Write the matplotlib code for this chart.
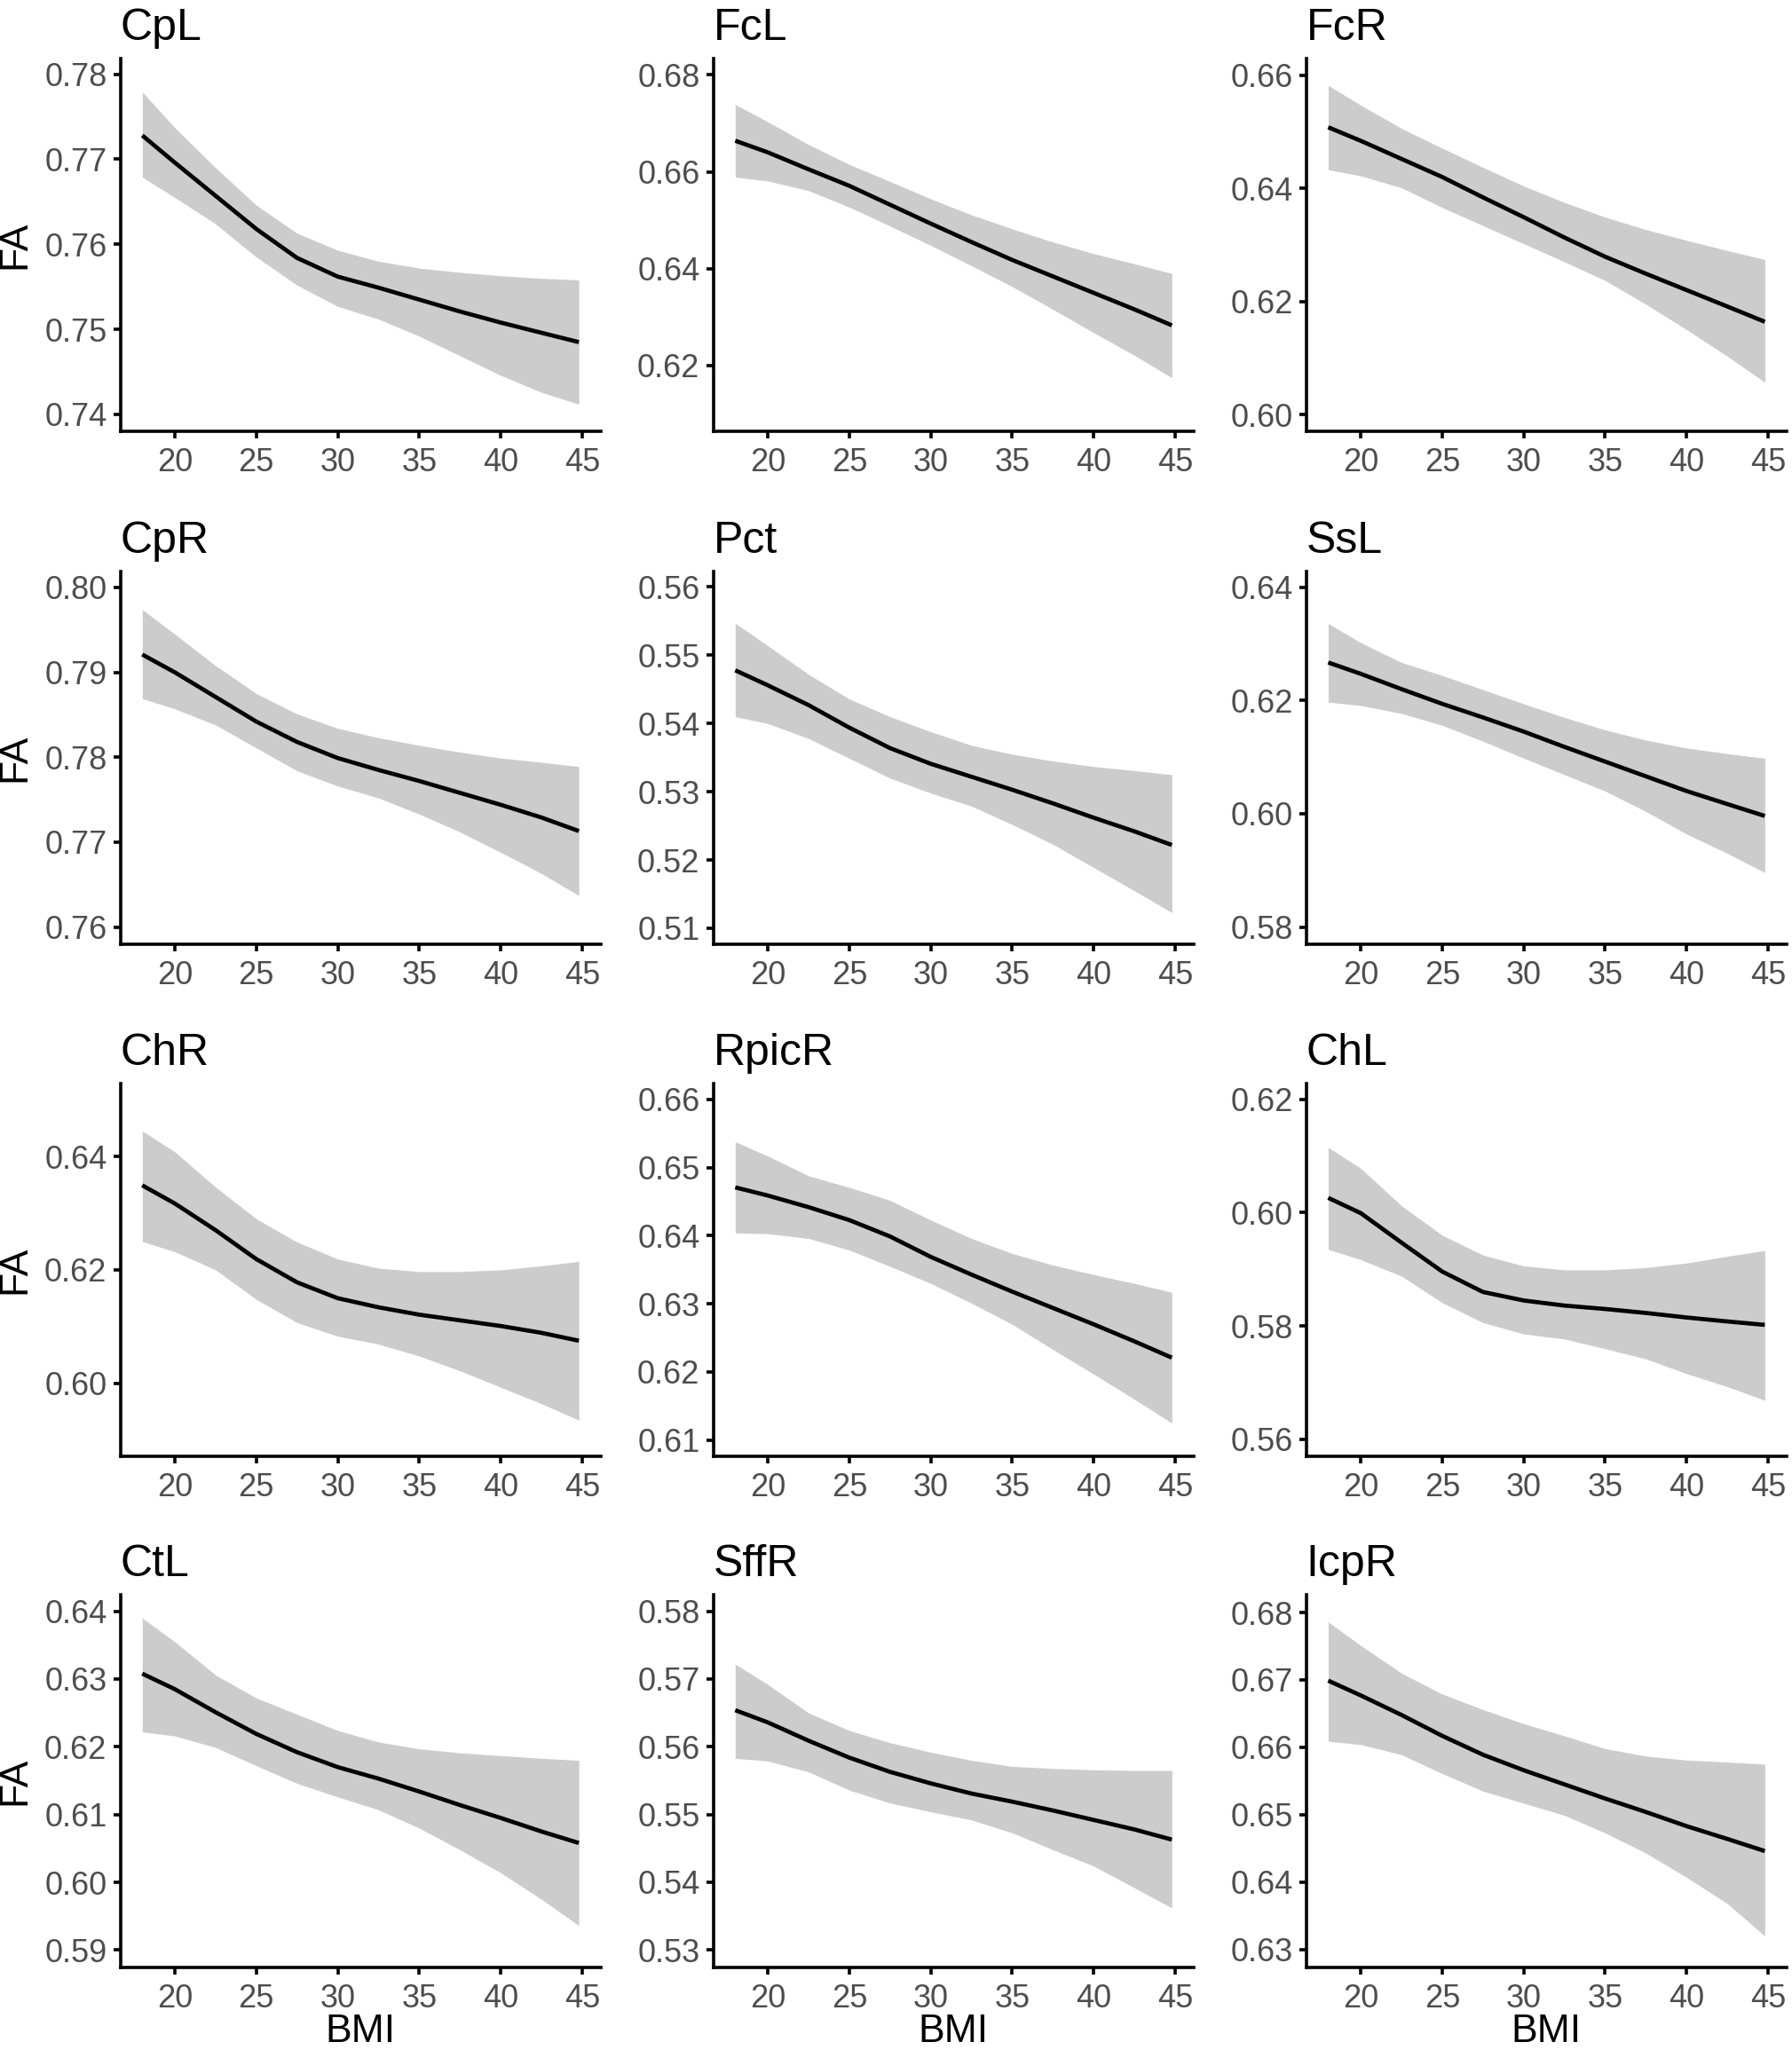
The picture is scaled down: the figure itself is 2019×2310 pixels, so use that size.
import matplotlib
matplotlib.use("Agg")
import matplotlib.pyplot as plt
from matplotlib.ticker import FormatStrFormatter

plt.rcParams['font.family'] = ['Liberation Sans', 'DejaVu Sans']

# ---------------- data ----------------
bmi = [18, 20, 22.5, 25, 27.5, 30, 32.5, 35, 37.5, 40, 42.5, 44.8]

titles = ["CpL", "FcL", "FcR", "CpR", "Pct", "SsL",
          "ChR", "RpicR", "ChL", "CtL", "SffR", "IcpR"]

cpl_fit = [.7728, .7696, .7657, .7618, .7584, .7562, .7549, .7535, .7521, .7508, .7496, .7485]
cpl_lo  = [.7679, .7655, .7624, .7585, .7552, .7527, .7512, .7492, .7469, .7446, .7426, .7412]
cpl_hi  = [.7779, .7737, .7690, .7646, .7613, .7593, .7580, .7572, .7567, .7563, .7560, .7558]

fcl_fit = [.6664, .6640, .6605, .6571, .6532, .6493, .6455, .6418, .6384, .6350, .6316, .6283]
fcl_lo  = [.6589, .6581, .6561, .6527, .6488, .6448, .6406, .6363, .6316, .6268, .6221, .6175]
fcl_hi  = [.6739, .6703, .6656, .6615, .6580, .6544, .6511, .6482, .6455, .6431, .6410, .6390]

fcr_fit = [.6508, .6484, .6452, .6420, .6384, .6349, .6313, .6279, .6249, .6220, .6191, .6164]
fcr_lo  = [.6433, .6422, .6401, .6366, .6334, .6302, .6270, .6237, .6195, .6150, .6103, .6057]
fcr_hi  = [.6582, .6547, .6506, .6471, .6437, .6404, .6375, .6349, .6327, .6308, .6290, .6274]

cpr_fit = [.7921, .7900, .7871, .7842, .7818, .7799, .7785, .7772, .7758, .7744, .7729, .7713]
cpr_lo  = [.7869, .7857, .7838, .7811, .7784, .7766, .7752, .7733, .7712, .7688, .7663, .7637]
cpr_hi  = [.7974, .7945, .7908, .7875, .7851, .7834, .7823, .7814, .7806, .7799, .7794, .7789]

pct_fit = [.5478, .5456, .5427, .5394, .5364, .5341, .5322, .5303, .5283, .5262, .5242, .5222]
pct_lo  = [.5410, .5400, .5378, .5349, .5320, .5298, .5279, .5252, .5223, .5189, .5155, .5123]
pct_hi  = [.5547, .5514, .5472, .5436, .5410, .5388, .5368, .5355, .5345, .5337, .5331, .5325]

ssl_fit = [.6267, .6247, .6220, .6194, .6170, .6145, .6118, .6092, .6066, .6040, .6017, .5996]
ssl_lo  = [.6197, .6191, .6177, .6156, .6128, .6098, .6069, .6040, .6004, .5964, .5930, .5896]
ssl_hi  = [.6336, .6302, .6267, .6244, .6219, .6194, .6170, .6148, .6130, .6116, .6106, .6098]

chr_fit = [.6349, .6317, .6270, .6219, .6178, .6150, .6134, .6121, .6111, .6101, .6089, .6075]
chr_lo  = [.6250, .6232, .6200, .6148, .6107, .6083, .6069, .6048, .6022, .5993, .5964, .5935]
chr_hi  = [.6445, .6408, .6346, .6290, .6249, .6219, .6203, .6197, .6197, .6200, .6207, .6215]

rpicr_fit = [.6471, .6459, .6442, .6423, .6399, .6369, .6343, .6318, .6294, .6270, .6245, .6221]
rpicr_lo  = [.6404, .6403, .6396, .6379, .6355, .6330, .6301, .6270, .6233, .6197, .6160, .6125]
rpicr_hi  = [.6538, .6517, .6488, .6471, .6452, .6423, .6396, .6374, .6357, .6343, .6330, .6317]

chl_fit = [.6026, .5999, .5947, .5896, .5860, .5845, .5836, .5830, .5823, .5815, .5808, .5802]
chl_lo  = [.5935, .5917, .5888, .5841, .5806, .5786, .5777, .5760, .5742, .5716, .5693, .5669]
chl_hi  = [.6115, .6078, .6012, .5960, .5925, .5906, .5899, .5899, .5903, .5911, .5923, .5933]

ctl_fit = [.6308, .6285, .6251, .6219, .6192, .6170, .6153, .6134, .6114, .6095, .6075, .6058]
ctl_lo  = [.6222, .6216, .6199, .6172, .6146, .6126, .6107, .6080, .6048, .6014, .5975, .5936]
ctl_hi  = [.6390, .6355, .6306, .6272, .6248, .6224, .6207, .6197, .6191, .6187, .6183, .6180]

sffr_fit = [.5654, .5636, .5609, .5584, .5563, .5546, .5531, .5519, .5506, .5492, .5478, .5463]
sffr_lo  = [.5583, .5579, .5563, .5536, .5517, .5504, .5492, .5473, .5448, .5424, .5392, .5362]
sffr_hi  = [.5722, .5692, .5650, .5624, .5606, .5592, .5580, .5571, .5568, .5566, .5565, .5565]

icpr_fit = [.6699, .6677, .6648, .6617, .6589, .6566, .6545, .6524, .6504, .6483, .6464, .6446]
icpr_lo  = [.6609, .6604, .6589, .6561, .6535, .6517, .6499, .6473, .6443, .6407, .6368, .6320]
icpr_hi  = [.6786, .6751, .6710, .6679, .6656, .6635, .6617, .6598, .6587, .6581, .6578, .6575]

fits = [cpl_fit, fcl_fit, fcr_fit, cpr_fit, pct_fit, ssl_fit,
        chr_fit, rpicr_fit, chl_fit, ctl_fit, sffr_fit, icpr_fit]
lows = [cpl_lo, fcl_lo, fcr_lo, cpr_lo, pct_lo, ssl_lo,
        chr_lo, rpicr_lo, chl_lo, ctl_lo, sffr_lo, icpr_lo]
highs = [cpl_hi, fcl_hi, fcr_hi, cpr_hi, pct_hi, ssl_hi,
         chr_hi, rpicr_hi, chl_hi, ctl_hi, sffr_hi, icpr_hi]

x_ticks = [20, 25, 30, 35, 40, 45]
y_ticks = [
    [0.74, 0.75, 0.76, 0.77, 0.78],
    [0.62, 0.64, 0.66, 0.68],
    [0.60, 0.62, 0.64, 0.66],
    [0.76, 0.77, 0.78, 0.79, 0.80],
    [0.51, 0.52, 0.53, 0.54, 0.55, 0.56],
    [0.58, 0.60, 0.62, 0.64],
    [0.60, 0.62, 0.64],
    [0.61, 0.62, 0.63, 0.64, 0.65, 0.66],
    [0.56, 0.58, 0.60, 0.62],
    [0.59, 0.60, 0.61, 0.62, 0.63, 0.64],
    [0.53, 0.54, 0.55, 0.56, 0.57, 0.58],
    [0.63, 0.64, 0.65, 0.66, 0.67, 0.68],
]
y_limits = [
    (0.7380, 0.7818), (0.6064, 0.6833), (0.5970, 0.6629),
    (0.7580, 0.8019), (0.5077, 0.5623), (0.5770, 0.6428),
    (0.5871, 0.6528), (0.6076, 0.6623), (0.5570, 0.6227),
    (0.5874, 0.6424), (0.5274, 0.5824), (0.6273, 0.6826),
]
x_limits = (16.66, 46.14)

# ---------------- layout ----------------
W, H = 2019, 2310
fig = plt.figure(figsize=(W / 100, H / 100), dpi=100)

col_left = [92 / 1369, 545 / 1369, 998 / 1369]
ax_w = 0.268
row_bottom = [1 - 330 / 1568, 1 - 722 / 1568, 1 - 1114 / 1568, 1 - 1505 / 1568]
ax_h = 285 / 1568

band_color = '#CCCCCC'
tick_color = '#4D4D4D'

for i in range(12):
    r, c = divmod(i, 3)
    ax = fig.add_axes([col_left[c], row_bottom[r], ax_w, ax_h])
    ax.fill_between(bmi, lows[i], highs[i], color=band_color, linewidth=0)
    ax.plot(bmi, fits[i], color='black', linewidth=3.4,
            solid_capstyle='butt', solid_joinstyle='round')
    ax.set_xlim(*x_limits)
    ax.set_ylim(*y_limits[i])
    ax.set_xticks(x_ticks)
    ax.set_yticks(y_ticks[i])
    ax.yaxis.set_major_formatter(FormatStrFormatter('%.2f'))
    for s in ['top', 'right']:
        ax.spines[s].set_visible(False)
    for s in ['left', 'bottom']:
        ax.spines[s].set_linewidth(2.6)
        ax.spines[s].set_color('black')
    ax.tick_params(axis='both', which='major', length=6, width=2.6,
                   color='black', labelsize=26, labelcolor=tick_color)
    ax.tick_params(axis='x', pad=7)
    ax.tick_params(axis='y', pad=5)
    ax.set_title(titles[i], loc='left', fontsize=36, pad=15, color='black')
    if c == 0:
        fig.text(0.0085, row_bottom[r] + ax_h / 2, "FA", rotation=90,
                 ha='center', va='center', fontsize=32, color='black')
    if r == 3:
        fig.text(col_left[c] + ax_w / 2, 0.0090, "BMI", ha='center',
                 va='center', fontsize=32, color='black')

fig.savefig("out.png", dpi=100, facecolor='white')
